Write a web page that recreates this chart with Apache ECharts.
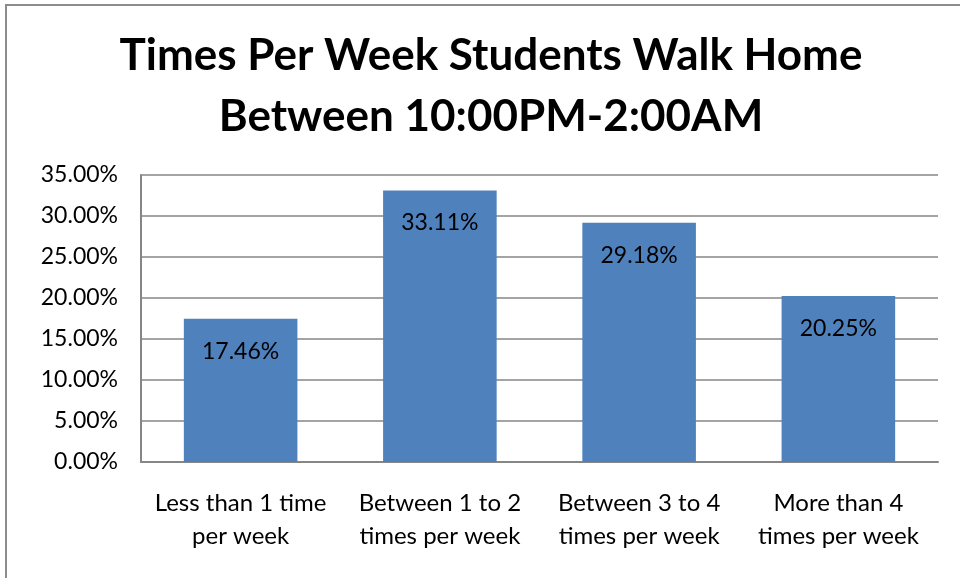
<!DOCTYPE html>
<html>
<head>
<meta charset="utf-8">
<script src="https://cdn.jsdelivr.net/npm/echarts@6/dist/echarts.min.js"></script>
<style>
html,body{margin:0;padding:0;background:#fff;}
#chart{width:960px;height:578px;}
</style>
</head>
<body>
<div id="chart"></div>
<script>
var categories = ['Less than 1 time\nper week', 'Between 1 to 2\ntimes per week', 'Between 3 to 4\ntimes per week', 'More than 4\ntimes per week'];
var values = [17.46, 33.11, 29.18, 20.25];
var titleText = 'Times Per Week Students Walk Home\nBetween 10:00PM-2:00AM';

var chart = echarts.init(document.getElementById('chart'));
var option = {
    backgroundColor: '#fff',
    animation: false,
    graphic: [{
        type: 'rect',
        shape: { x: 6, y: 5, width: 1000, height: 620 },
        style: { fill: 'none', stroke: '#8c8c8c', lineWidth: 2 }
    }],
    title: {
        text: titleText,
        left: 486,
        top: 20,
        textAlign: 'center',
        textStyle: {
            fontFamily: 'Lato',
            fontWeight: 'bold',
            fontSize: 44,
            lineHeight: 61,
            color: '#000'
        }
    },
    grid: {
        left: 141,
        right: 22,
        top: 175,
        bottom: 116
    },
    xAxis: {
        type: 'category',
        data: categories,
        axisTick: { show: false },
        axisLine: { lineStyle: { color: '#868686', width: 2 } },
        axisLabel: {
            interval: 0,
            margin: 25,
            fontFamily: 'Lato',
            fontSize: 24,
            lineHeight: 33,
            color: '#000'
        }
    },
    yAxis: {
        type: 'value',
        min: 0,
        max: 35,
        interval: 5,
        axisLine: { show: true, lineStyle: { color: '#868686', width: 2 } },
        axisTick: { show: false },
        splitLine: { lineStyle: { color: '#868686', width: 1.5 } },
        axisLabel: {
            margin: 23,
            fontFamily: 'Lato',
            fontSize: 23,
            color: '#000',
            formatter: function (v) { return v.toFixed(2) + '%'; }
        }
    },
    series: [{
        type: 'bar',
        data: values,
        barWidth: '57%',
        itemStyle: { color: '#4f81bd' },
        label: {
            show: true,
            position: 'insideTop',
            distance: 21,
            fontFamily: 'Lato',
            fontSize: 23,
            color: '#000',
            formatter: function (p) { return p.value.toFixed(2) + '%'; }
        }
    }]
};
chart.setOption(option);
</script>
</body>
</html>
